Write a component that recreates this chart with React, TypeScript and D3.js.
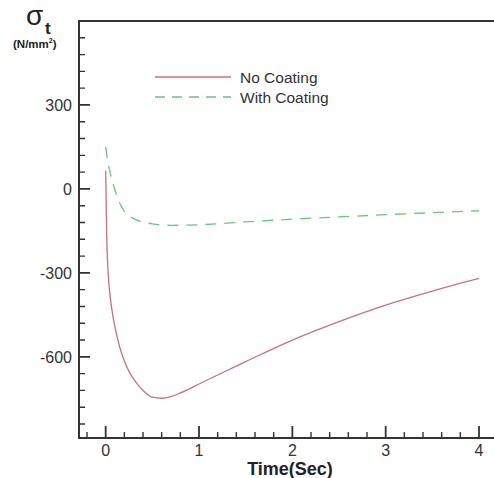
import React from 'react';
import * as d3 from 'd3';

// time (sec) and tangential stress (N/mm^2)
const noCoatT = [0, 0.003, 0.01, 0.02, 0.035, 0.05, 0.075, 0.1, 0.15, 0.2, 0.25, 0.3, 0.4, 0.5, 0.6, 0.7, 0.8, 1.0, 1.5, 2.0, 2.5, 3.0, 3.5, 4.0];
const noCoatV = [65, 0, -150, -260, -340, -390, -450, -495, -565, -615, -652, -680, -720, -744, -748, -742, -729, -697, -617, -540, -474, -415, -365, -320];

const coatT = [0, 0.01, 0.03, 0.05, 0.1, 0.15, 0.2, 0.3, 0.4, 0.5, 0.7, 1.0, 1.5, 2.0, 2.5, 3.0, 3.5, 4.0];
const coatV = [150, 125, 85, 55, -5, -50, -80, -106, -118, -125, -130, -128, -118, -108, -100, -92, -85, -78];

const xMajor = [0, 1, 2, 3, 4];
const xMinor = [-0.2, 0.2, 0.4, 0.6, 0.8, 1.2, 1.4, 1.6, 1.8, 2.2, 2.4, 2.6, 2.8, 3.2, 3.4, 3.6, 3.8, 4.2];
const yMajor = [300, 0, -300, -600];
const yMinor = [540, 480, 420, 360, 240, 180, 120, 60, -60, -120, -180, -240, -360, -420, -480, -540, -660, -720, -780, -840];

const seriesNames = ['No Coating', 'With Coating'];
const seriesColors = ['#c9707f', '#66c879'];

const W = 494, H = 478;
const left = 79, top = 21, bottom = 438;
const font = 'Arial, "Liberation Sans", sans-serif';
const axisColor = '#333';
const textColor = '#333';

const x = d3.scaleLinear().domain([-0.286, 4.225]).range([left, 500]);
const y = d3.scaleLinear().domain([-890, 600]).range([bottom, top]);

const line = d3.line<[number, number]>()
    .x(d => x(d[0]))
    .y(d => y(d[1]))
    .curve(d3.curveMonotoneX);

const App = () => {
    const noCoatPath = line(noCoatT.map((t, i) => [t, noCoatV[i]] as [number, number])) || '';
    const coatPath = line(coatT.map((t, i) => [t, coatV[i]] as [number, number])) || '';

    // tick marks as path strings built from the scales
    const yMinorD = yMinor.map(v => `M${left},${y(v)}h6`).join('');
    const yMajorD = yMajor.map(v => `M${left},${y(v)}h11`).join('');
    const xMinorD = xMinor.map(v => `M${x(v)},${bottom}v-6`).join('');
    const xMajorD = xMajor.map(v => `M${x(v)},${bottom}v-12`).join('');

    return (
        <svg width={W} height={H}
            style={{ position: 'absolute', left: 0, top: 0, background: 'white' }}>
            {/* curves */}
            <path d={noCoatPath} fill="none" stroke={seriesColors[0]} strokeWidth={1.3} />
            <path d={coatPath} fill="none" stroke={seriesColors[1]} strokeWidth={1.3} strokeDasharray="11,8" />

            {/* ticks */}
            <path d={yMinorD} fill="none" stroke={axisColor} strokeWidth={1.4} />
            <path d={yMajorD} fill="none" stroke={axisColor} strokeWidth={1.8} />
            <path d={xMinorD} fill="none" stroke={axisColor} strokeWidth={1.4} />
            <path d={xMajorD} fill="none" stroke={axisColor} strokeWidth={1.8} />

            {/* frame */}
            <path d={`M${W},${top}H${left}V${bottom}H${W}`} fill="none" stroke={axisColor} strokeWidth={2} />

            {/* tick labels */}
            {yMajor.map(v => (
                <text key={'y' + v} x={left - 7} y={y(v) + 6} textAnchor="end"
                    style={{ fontFamily: font, fontSize: '16px', fill: textColor }}>{v}</text>
            ))}
            {xMajor.map(v => (
                <text key={'x' + v} x={x(v)} y={456} textAnchor="middle"
                    style={{ fontFamily: font, fontSize: '16px', fill: textColor }}>{v}</text>
            ))}

            {/* axis titles */}
            <text x={290} y={475} textAnchor="middle"
                style={{ fontFamily: font, fontSize: '18px', fontWeight: 'bold', fill: '#222' }}>Time(Sec)</text>

            <text x={26} y={25} style={{ fontFamily: font, fill: '#222', fontSize: '28px' }}>σ</text>
            <text x={45} y={34} style={{ fontFamily: font, fill: '#222', fontSize: '17px', fontWeight: 'bold' }}>t</text>
            <text x={13} y={48} style={{ fontFamily: font, fill: '#222', fontSize: '11.5px', fontWeight: 'bold' }}>
                <tspan>(N/mm</tspan>
                <tspan dy={-5} style={{ fontSize: '7px' }}>2</tspan>
                <tspan dy={5}>)</tspan>
            </text>

            {/* legend */}
            <g transform="translate(155, 77)">
                {seriesNames.map((name, i) => (
                    <g key={name}>
                        <line x1={0} x2={76} y1={i * 20} y2={i * 20}
                            stroke={seriesColors[i]} strokeWidth={1.3}
                            strokeDasharray={i === 0 ? undefined : '10,7'} />
                        <text x={85} y={i * 20 + 6}
                            style={{ fontFamily: font, fontSize: '15.5px', fill: textColor }}>{name}</text>
                    </g>
                ))}
            </g>
        </svg>
    );
};

export default App;
